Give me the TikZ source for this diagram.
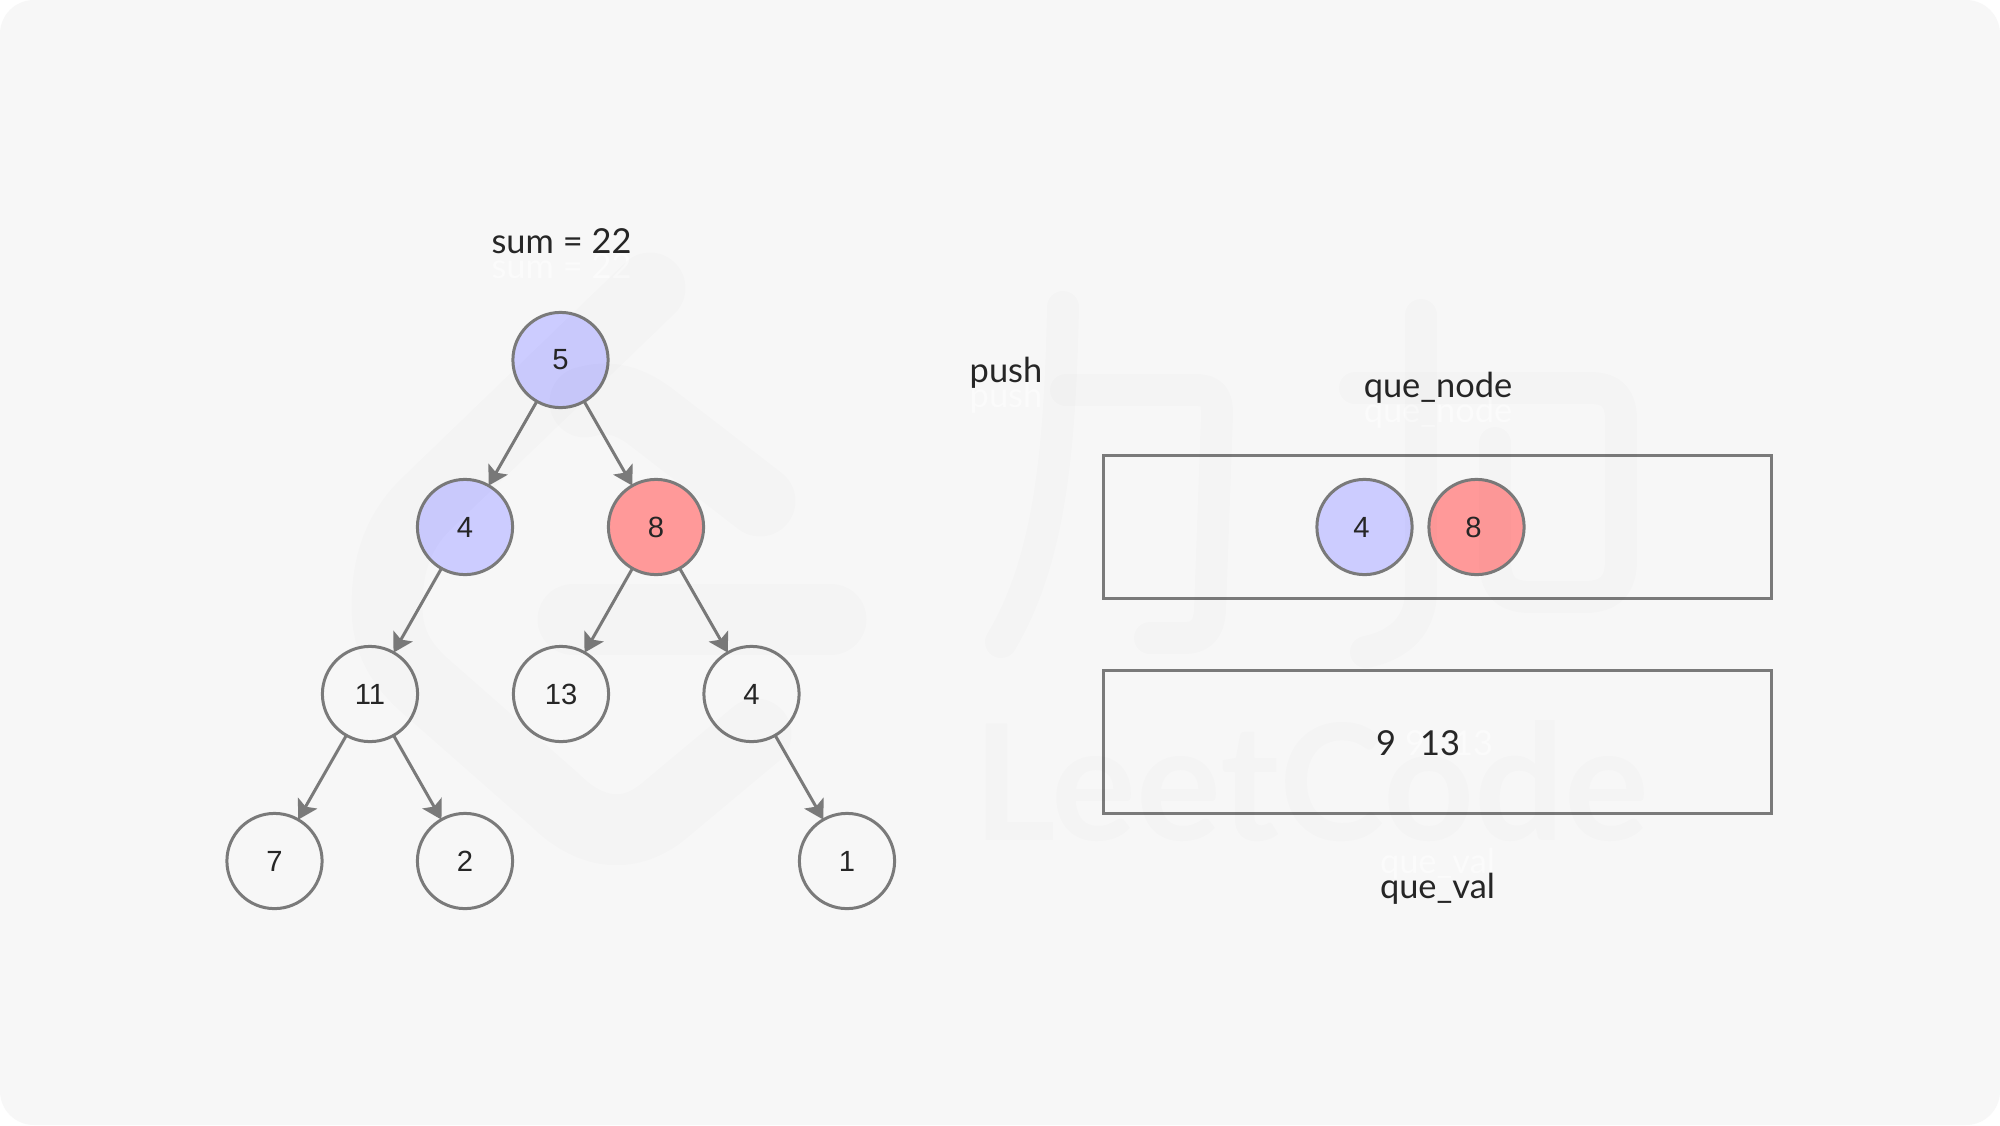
\documentclass[tikz,border=0pt]{standalone}
\usepackage{fontspec}
\usetikzlibrary{arrows.meta}
\setmainfont{Liberation Sans}
\newfontfamily\handfont{Lato}
\definecolor{bgc}{HTML}{F7F7F7}
\definecolor{linec}{HTML}{7A7A7A}
\definecolor{inkc}{HTML}{262626}
\definecolor{purplec}{HTML}{CCCCFF}
\definecolor{redc}{HTML}{FF9999}
\definecolor{ghostc}{HTML}{FBFBFB}
\tikzset{
  treenode/.style={circle,draw=linec,line width=1.5pt,minimum size=47.6pt,inner sep=0pt,outer sep=0pt,text=inkc,font=\fontsize{14.6}{16}\selectfont},
  hit/.style={treenode,fill=purplec},
  cur/.style={treenode,fill=redc},
  edgeline/.style={draw=linec,line width=1.5pt,-{Stealth[length=9.5pt,width=11pt,inset=2pt]}},
  boxline/.style={draw=linec,line width=1.5pt,rectangle,inner sep=0pt,outer sep=0pt,minimum width=334pt,minimum height=71.5pt},
  hand/.style={anchor=base,inner sep=0pt,text=inkc,font=\handfont\fontsize{17.2}{20}\selectfont},
  ghost/.style={hand,text=ghostc},
  wmark/.style={draw=black,opacity=0.013,line width=#1,line cap=round,line join=round},
  wmark/.default=16pt
}
\begin{document}
\begin{tikzpicture}[x=0.5pt,y=-0.5pt]
\useasboundingbox (0,0) rectangle (2000,1125);
\fill[white] (0,0) rectangle (2000,1125);
\fill[bgc,rounded corners=17pt] (0,0) rectangle (2000,1125);

% queue boxes
\node[boxline] (qnode) at (1437,526.5) {};
\node[boxline] (qval) at (1437,741.5) {};

% tree
\node[hit] (n5) at (560.5,360) {5};
\node[hit] (n4) at (465,527) {4};
\node[cur] (n8) at (656,527) {8};
\node[treenode] (n11) at (370,694) {11};
\node[treenode] (n13) at (561,694) {13};
\node[treenode] (n4b) at (751.5,694) {4};
\node[treenode] (n7) at (274.5,861) {7};
\node[treenode] (n2) at (465,861) {2};
\node[treenode] (n1) at (847,861) {1};
\draw[edgeline] (n5) -- (n4);
\draw[edgeline] (n5) -- (n8);
\draw[edgeline] (n4) -- (n11);
\draw[edgeline] (n8) -- (n13);
\draw[edgeline] (n8) -- (n4b);
\draw[edgeline] (n11) -- (n7);
\draw[edgeline] (n11) -- (n2);
\draw[edgeline] (n4b) -- (n1);

% queue contents
\node[hit] (q4) at (1364.5,527) {\hspace{-3pt}4};
\node[cur] (q8) at (1476.5,527) {\hspace{-3pt}8};

% labels and their pale echoes
\node[ghost] (sumg) at (561.5,278) {sum = 22};
\node[hand] (sum) at (561.5,253) {sum = 22};
\node[ghost] (pushg) at (1006,407) {push};
\node[hand] (push) at (1006,382) {push};
\node[ghost] (qng) at (1438,422) {que\_node};
\node[hand] (qn) at (1438,397) {que\_node};
\node[ghost] (qvg) at (1437.5,873) {que\_val};
\node[hand] (qv) at (1437.5,898) {que\_val};
\node[ghost] (d9g) at (1415,755) {9};
\node[ghost] (d13g) at (1473,755) {13};
\node[hand] (d9) at (1386,755) {9};
\node[hand] (d13) at (1440,755) {13};

% watermark
\draw[wmark=35.5pt] (650,288) -- (425,505) .. controls (395,535) and (387,570) .. (387,607)
  .. controls (387,640) and (400,665) .. (430,690) -- (555,800)
  .. controls (590,835) and (630,840) .. (665,810) -- (756,734);
\draw[wmark=35.5pt] (585,402) .. controls (610,395) and (630,400) .. (655,420) -- (760,501);
\draw[wmark=35.5pt] (573,619) -- (831,619);
\draw[wmark] (1063,307) .. controls (1060,450) and (1050,560) .. (1001,642);
\draw[wmark] (1066,390) -- (1195,390) .. controls (1215,390) and (1217,400) .. (1217,415) -- (1210,610) .. controls (1209,630) and (1200,638) .. (1185,638) -- (1150,638);
\draw[wmark] (1421,315) -- (1421,590) .. controls (1421,625) and (1400,645) .. (1366,652);
\draw[wmark] (1355,388) -- (1590,388) .. controls (1612,388) and (1621,398) .. (1621,420) -- (1621,560) .. controls (1621,585) and (1610,597) .. (1585,597) -- (1530,597) .. controls (1505,597) and (1495,585) .. (1495,560) -- (1495,443);
\node[opacity=0.013,text=black,inner sep=0pt,outer sep=0pt,anchor=south west] (wm) at (973,842) {\resizebox{338pt}{60pt}{\handfont\bfseries LeetCode}};
\end{tikzpicture}
\end{document}
